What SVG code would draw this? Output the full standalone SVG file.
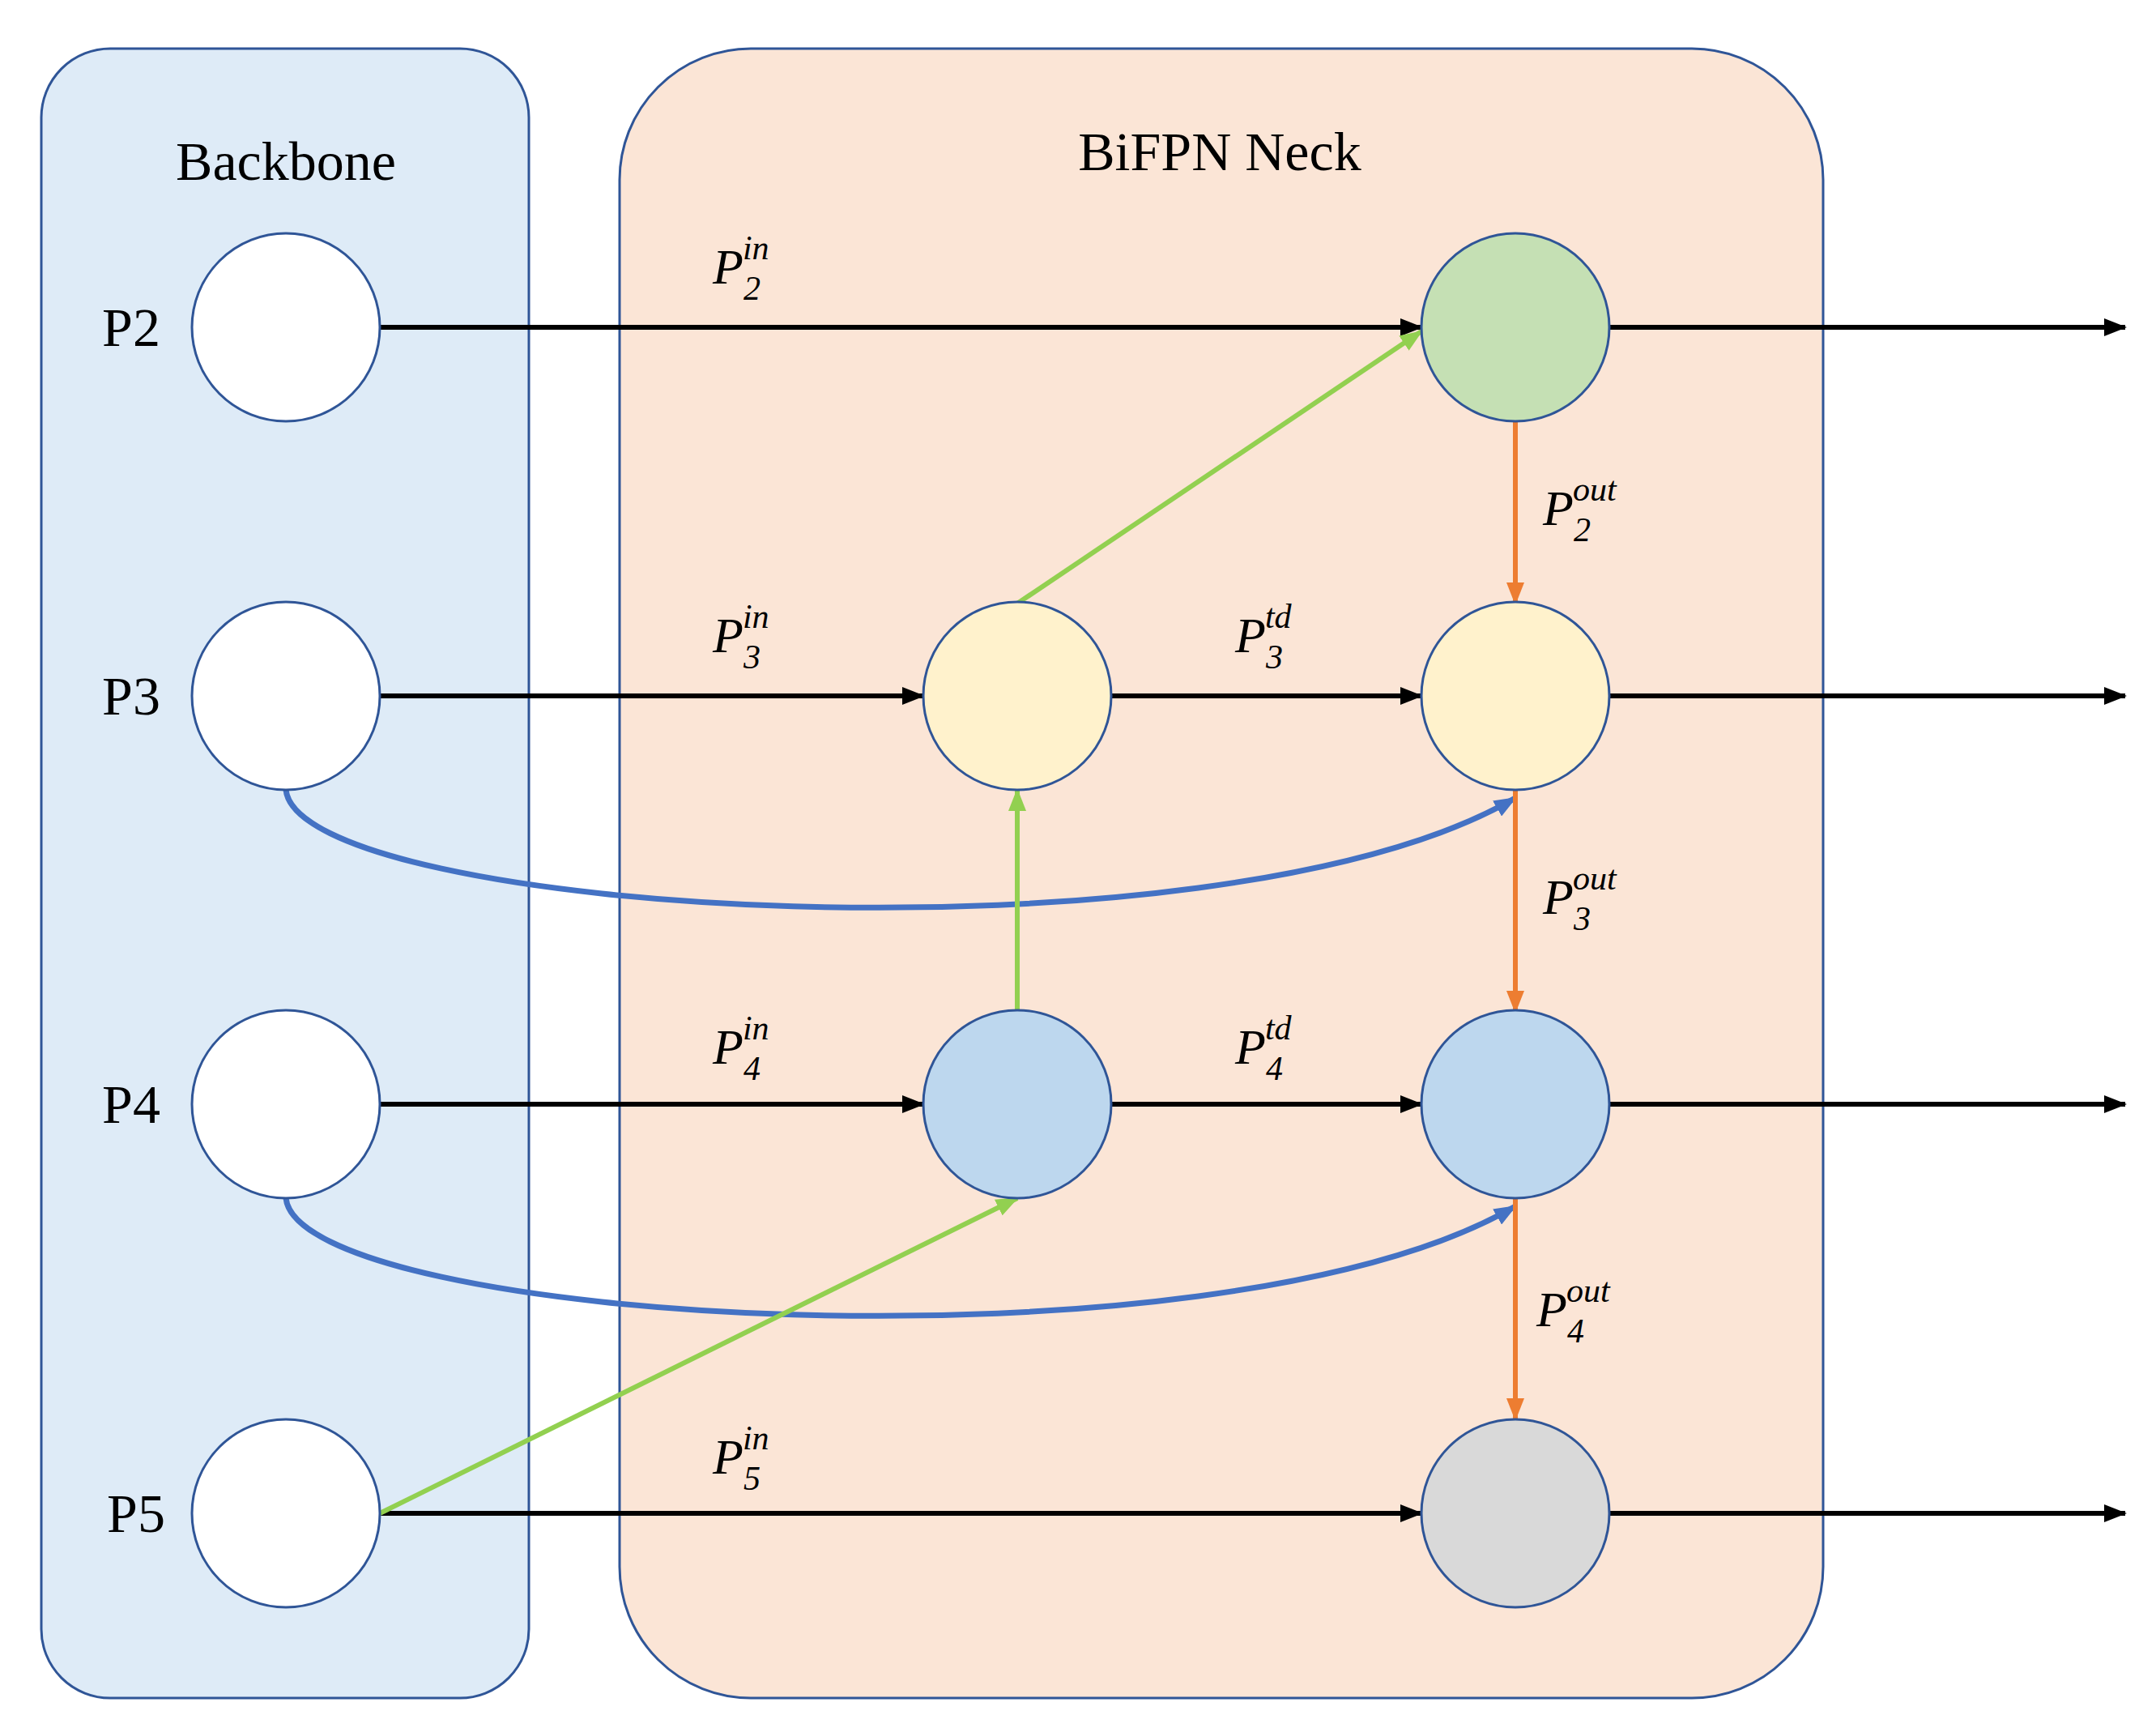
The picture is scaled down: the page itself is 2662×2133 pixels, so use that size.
<svg xmlns="http://www.w3.org/2000/svg" width="2662" height="2133" viewBox="0 0 2662 2133">
<style>
.panel{stroke:#2F5597;stroke-width:3}
.node{stroke:#2F5597;stroke-width:3}
.t{font-family:"Liberation Serif",serif;font-size:68px;fill:#000}
.m{font-family:"Liberation Serif",serif;font-style:italic;font-size:62px;fill:#000}
.s{font-size:42px}
.blk{stroke:#000;stroke-width:6;fill:none}
.grn{stroke:#92D050;stroke-width:6;fill:none}
.org{stroke:#ED7D31;stroke-width:6;fill:none}
.blu{stroke:#4472C4;stroke-width:7;fill:none}
</style>
<defs>
<marker id="ak" markerUnits="userSpaceOnUse" markerWidth="28" markerHeight="22" refX="26" refY="11" orient="auto"><path d="M0,0L28,11L0,22z" fill="#000"/></marker>
<marker id="ag" markerUnits="userSpaceOnUse" markerWidth="28" markerHeight="22" refX="26" refY="11" orient="auto"><path d="M0,0L28,11L0,22z" fill="#92D050"/></marker>
<marker id="ao" markerUnits="userSpaceOnUse" markerWidth="28" markerHeight="22" refX="26" refY="11" orient="auto"><path d="M0,0L28,11L0,22z" fill="#ED7D31"/></marker>
<marker id="ab" markerUnits="userSpaceOnUse" markerWidth="28" markerHeight="22" refX="26" refY="11" orient="auto"><path d="M0,0L28,11L0,22z" fill="#4472C4"/></marker>
</defs>
<g id="backbone"><rect class="panel" x="51" y="60" width="602" height="2036" rx="85" fill="#DEEBF7"/><text class="t" x="353" y="222" text-anchor="middle">Backbone</text></g>
<g id="neck"><rect class="panel" x="765" y="60" width="1486" height="2036" rx="162" fill="#FBE5D6"/><text class="t" x="1506" y="210" text-anchor="middle">BiFPN Neck</text></g>
<g id="connectors">
<path class="blu" d="M353,975 C370,1130 1500,1200 1871,985" marker-end="url(#ab)"/>
<path class="blu" d="M353,1479 C370,1634 1500,1704 1871,1489" marker-end="url(#ab)"/>
<path class="blk" d="M469,404H1755" marker-end="url(#ak)"/>
<path class="blk" d="M1987,404H2624" marker-end="url(#ak)"/>
<path class="blk" d="M469,859H1140" marker-end="url(#ak)"/>
<path class="blk" d="M1372,859H1755" marker-end="url(#ak)"/>
<path class="blk" d="M1987,859H2624" marker-end="url(#ak)"/>
<path class="blk" d="M469,1363H1140" marker-end="url(#ak)"/>
<path class="blk" d="M1372,1363H1755" marker-end="url(#ak)"/>
<path class="blk" d="M1987,1363H2624" marker-end="url(#ak)"/>
<path class="blk" d="M469,1868H1755" marker-end="url(#ak)"/>
<path class="blk" d="M1987,1868H2624" marker-end="url(#ak)"/>
<path class="grn" d="M469,1868L1256,1479" marker-end="url(#ag)"/>
<path class="grn" d="M1256,745L1755,409" marker-end="url(#ag)"/>
<path class="grn" d="M1256,1247V975" marker-end="url(#ag)"/>
<path class="org" d="M1871,520V745" marker-end="url(#ao)"/>
<path class="org" d="M1871,975V1249" marker-end="url(#ao)"/>
<path class="org" d="M1871,1479V1752" marker-end="url(#ao)"/>
</g>
<g id="b2"><circle class="node" cx="353" cy="404" r="116" fill="#fff"/><text class="t" x="162" y="427" text-anchor="middle">P2</text></g>
<g id="b3"><circle class="node" cx="353" cy="859" r="116" fill="#fff"/><text class="t" x="162" y="882" text-anchor="middle">P3</text></g>
<g id="b4"><circle class="node" cx="353" cy="1363" r="116" fill="#fff"/><text class="t" x="162" y="1386" text-anchor="middle">P4</text></g>
<g id="b5"><circle class="node" cx="353" cy="1868" r="116" fill="#fff"/><text class="t" x="168" y="1891" text-anchor="middle">P5</text></g>
<g id="m3"><circle class="node" cx="1256" cy="859" r="116" fill="#FFF2CC"/></g>
<g id="m4"><circle class="node" cx="1256" cy="1363" r="116" fill="#BDD7EE"/></g>
<g id="o2"><circle class="node" cx="1871" cy="404" r="116" fill="#C5E0B4"/></g>
<g id="o3"><circle class="node" cx="1871" cy="859" r="116" fill="#FFF2CC"/></g>
<g id="o4"><circle class="node" cx="1871" cy="1363" r="116" fill="#BDD7EE"/></g>
<g id="o5"><circle class="node" cx="1871" cy="1868" r="116" fill="#D9D9D9"/></g>
<g id="labels">
<text class="m" x="880" y="350">P<tspan class="s" dy="20">2</tspan><tspan class="s" dx="-22" dy="-50">in</tspan></text>
<text class="m" x="880" y="805">P<tspan class="s" dy="20">3</tspan><tspan class="s" dx="-22" dy="-50">in</tspan></text>
<text class="m" x="880" y="1313">P<tspan class="s" dy="20">4</tspan><tspan class="s" dx="-22" dy="-50">in</tspan></text>
<text class="m" x="880" y="1819">P<tspan class="s" dy="20">5</tspan><tspan class="s" dx="-22" dy="-50">in</tspan></text>
<text class="m" x="1525" y="805">P<tspan class="s" dy="20">3</tspan><tspan class="s" dx="-22" dy="-50">td</tspan></text>
<text class="m" x="1525" y="1313">P<tspan class="s" dy="20">4</tspan><tspan class="s" dx="-22" dy="-50">td</tspan></text>
<text class="m" x="1905" y="648">P<tspan class="s" dy="20">2</tspan><tspan class="s" dx="-22" dy="-50">out</tspan></text>
<text class="m" x="1905" y="1128">P<tspan class="s" dy="20">3</tspan><tspan class="s" dx="-22" dy="-50">out</tspan></text>
<text class="m" x="1897" y="1637">P<tspan class="s" dy="20">4</tspan><tspan class="s" dx="-22" dy="-50">out</tspan></text>
</g>
</svg>
